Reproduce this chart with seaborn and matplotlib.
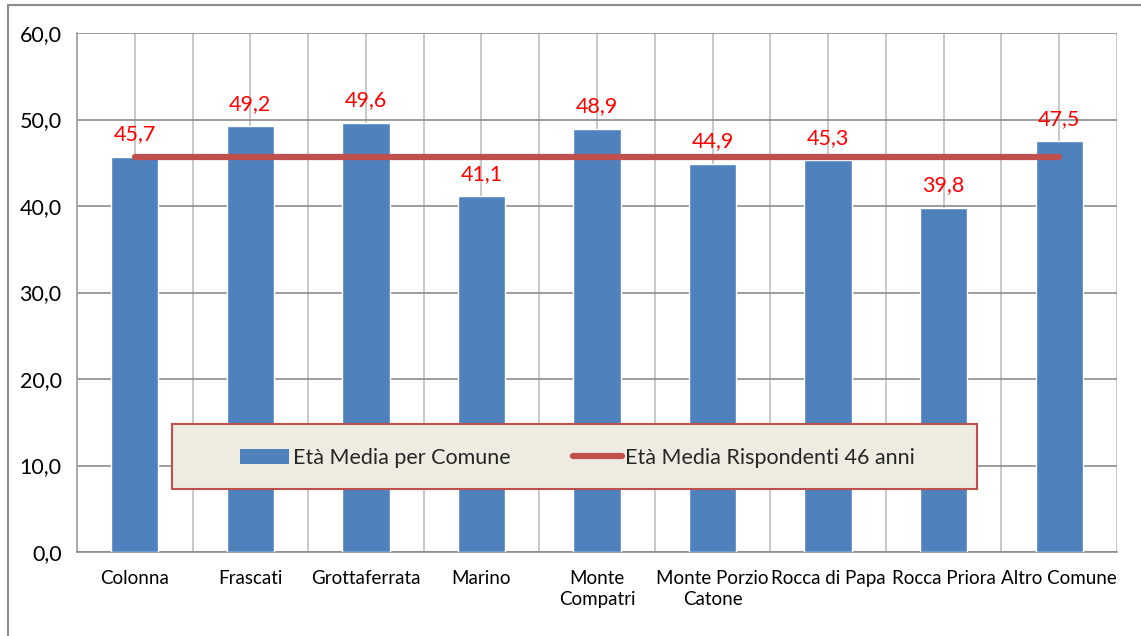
import matplotlib
matplotlib.use("Agg")
import matplotlib.pyplot as plt
import numpy as np
import pandas as pd
import seaborn as sns
from matplotlib.lines import Line2D
from matplotlib.patches import Patch, Rectangle
from matplotlib.ticker import FuncFormatter, MultipleLocator

comuni = [
    "Colonna", "Frascati", "Grottaferrata", "Marino", "Monte\nCompatri",
    "Monte Porzio\nCatone", "Rocca di Papa", "Rocca Priora", "Altro Comune",
]
eta_media = [45.7, 49.2, 49.6, 41.1, 48.9, 44.9, 45.3, 39.8, 47.5]
media_rispondenti = 45.7
etichetta_barre = "Età Media per Comune"
etichetta_linea = "Età Media Rispondenti 46 anni"

BLU = "#4F81BD"
ROSSO = "#C0504D"
FONT = ["Lato", "DejaVu Sans"]

sns.set_theme(style="white")
plt.rcParams["font.family"] = FONT

df = pd.DataFrame({"Comune": comuni, "Eta": eta_media})

fig = plt.figure(figsize=(11.41, 6.36), dpi=100)
ax = fig.add_axes([77 / 1141, 1 - 552 / 636, (1117 - 77) / 1141, (552 - 33) / 636])

sns.barplot(data=df, x="Comune", y="Eta", color=BLU, width=0.41, saturation=1,
            ax=ax, zorder=3)
ax.plot(df["Comune"], [media_rispondenti] * len(df), color=ROSSO, lw=4.5,
        solid_capstyle="round", zorder=4)

for i, v in enumerate(eta_media):
    ax.annotate(f"{v:.1f}".replace(".", ","), (i, v), xytext=(0, 9),
                textcoords="offset points", ha="center", va="bottom",
                color="#FF0000", fontsize=15.5, zorder=6)

n = len(comuni)
ax.set_xlim(-0.5, n - 0.5)
ax.set_ylim(0, 60)
ax.yaxis.set_major_locator(MultipleLocator(10))
ax.yaxis.set_major_formatter(FuncFormatter(lambda v, p: f"{v:.1f}".replace(".", ",")))
ax.set_xticks(np.arange(-0.5, n, 1.0), minor=True)
ax.set_xlabel("")
ax.set_ylabel("")

ax.grid(axis="y", color="#8C8C8C", lw=1.2, zorder=0)
ax.grid(axis="x", which="both", color="#BFBFBF", lw=1.2, zorder=0)
ax.set_axisbelow(True)
for s in ["top", "right"]:
    ax.spines[s].set_visible(False)
ax.spines["left"].set_color("#A0A0A0")
ax.spines["bottom"].set_color("#8C8C8C")
ax.spines["left"].set_linewidth(1.2)
ax.spines["bottom"].set_linewidth(1.2)

ax.tick_params(axis="x", which="major", length=0, pad=13, labelsize=13.5, colors="black")
ax.tick_params(axis="x", which="minor", length=5, width=1.2, color="#8C8C8C", direction="out")
ax.tick_params(axis="y", length=6, width=1.2, color="#8C8C8C", direction="out",
               labelsize=15.5, pad=5, colors="black")
for t in ax.get_xticklabels():
    t.set_multialignment("center")
    t.set_linespacing(1.25)

# legend box
box = Rectangle((172 / 1141, 1 - 489 / 636), 805 / 1141, 65 / 636,
                transform=fig.transFigure, facecolor="#EEECE1", edgecolor=ROSSO,
                lw=1.5, zorder=8, clip_on=False)
ax.add_patch(box)
handles = [Patch(facecolor=BLU, edgecolor="none"),
           Line2D([0], [0], color=ROSSO, lw=4.5, solid_capstyle="round")]
leg = ax.legend(handles, [etichetta_barre, etichetta_linea], ncol=2, frameon=False,
                loc="center", bbox_to_anchor=((234 + 921) / 2 / 1141, 1 - 458 / 636),
                bbox_transform=fig.transFigure, fontsize=15.5, handlelength=2.3,
                handletextpad=0.15, columnspacing=2.9)
leg.set_zorder(10)

# outer chart frame
fig.add_artist(Line2D([8 / 1141, 8 / 1141], [0, 1 - 5 / 636], transform=fig.transFigure,
                      color="#8C8C8C", lw=1.5))
fig.add_artist(Line2D([8 / 1141, 1], [1 - 5 / 636, 1 - 5 / 636], transform=fig.transFigure,
                      color="#8C8C8C", lw=1.5))

fig.savefig("out.png", dpi=100)
